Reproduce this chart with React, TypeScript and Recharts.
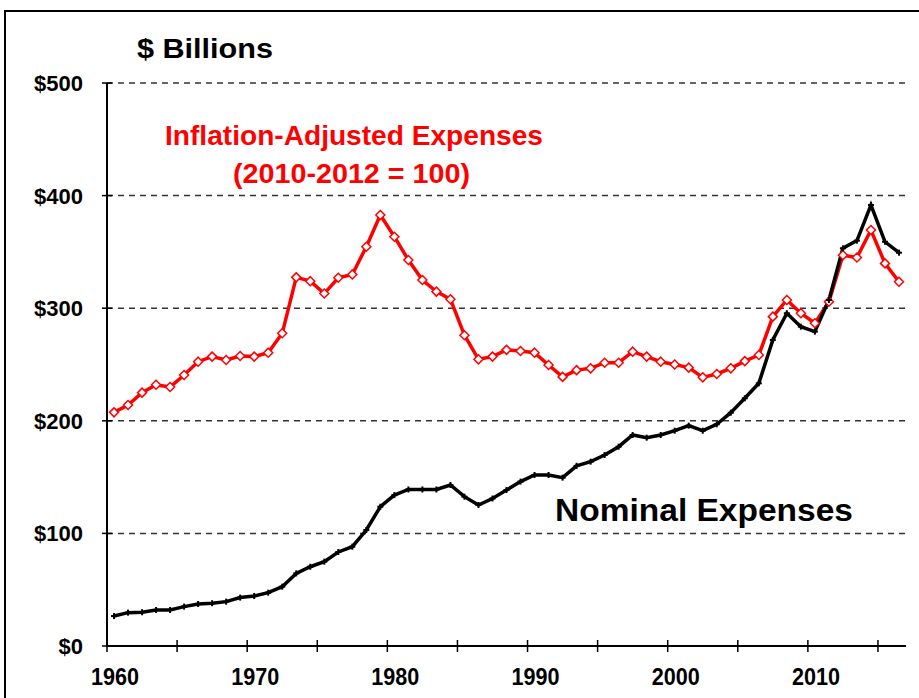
import { LineChart, Line, XAxis, YAxis, CartesianGrid } from 'recharts';

const years = [
  1960, 1961, 1962, 1963, 1964, 1965, 1966, 1967, 1968, 1969,
  1970, 1971, 1972, 1973, 1974, 1975, 1976, 1977, 1978, 1979,
  1980, 1981, 1982, 1983, 1984, 1985, 1986, 1987, 1988, 1989,
  1990, 1991, 1992, 1993, 1994, 1995, 1996, 1997, 1998, 1999,
  2000, 2001, 2002, 2003, 2004, 2005, 2006, 2007, 2008, 2009,
  2010, 2011, 2012, 2013, 2014, 2015, 2016,
];

// nominal expenses, $ billions
const nominal = [
  26.6, 29.6, 30, 32, 32, 35, 37.3, 38, 39.4, 43,
  44.4, 47.4, 52.7, 64.5, 70.4, 74.9, 83.5, 88.2, 103, 123.7,
  134, 139, 139, 139, 143, 132.6, 125.2, 131, 138.5, 146,
  151.9, 151.9, 149.5, 160, 163.7, 169.6, 177, 187.4, 185, 187.4,
  191.2, 195.7, 191.2, 196.9, 207.2, 220, 233.3, 271.8, 295.5, 283.6,
  279.2, 307.3, 353.2, 360, 391.6, 359, 349.3,
];

// inflation-adjusted (2010-2012 = 100)
const adjusted = [
  207.5, 214, 225, 232, 230, 240.7, 252.5, 257, 254, 257.5,
  257, 260.5, 277.7, 327.4, 324, 313, 327, 330, 354.6, 382.8,
  363.5, 342.8, 325, 314.7, 308, 276, 254.6, 257, 263, 262,
  260.5, 249.6, 239, 245, 246.6, 251.6, 251.6, 261.4, 257, 252.5,
  250, 247.2, 238.6, 241.6, 246.6, 253, 258.4, 292.5, 307.3, 295.5,
  286.6, 305.8, 347, 345, 369.4, 339.8, 323.5,
];

const xTicks = [1960, 1965, 1970, 1975, 1980, 1985, 1990, 1995, 2000, 2005, 2010, 2015];
const yTicks = [0, 100, 200, 300, 400, 500];

// points sit in the middle of each year's slot
const data = years.map((y, i) => ({ x: y + 0.5, nominal: nominal[i], adjusted: adjusted[i] }));

const narrow = '"Liberation Sans Narrow", "Arial Narrow", "Liberation Sans", Arial, sans-serif';
const sans = '"Liberation Sans", Arial, sans-serif';

function Diamond(props: any) {
  const { cx, cy, index } = props;
  if (cx == null || cy == null) return <g key={`a${index}`} />;
  return (
    <path
      key={`a${index}`}
      d={`M${cx},${cy - 4.5} L${cx + 4.5},${cy} L${cx},${cy + 4.5} L${cx - 4.5},${cy} Z`}
      fill="#fff"
      stroke="#ff0000"
      strokeWidth={1.5}
    />
  );
}

function Cross(props: any) {
  const { cx, cy, index } = props;
  if (cx == null || cy == null) return <g key={`n${index}`} />;
  return (
    <g key={`n${index}`} stroke="#000" strokeWidth={2}>
      <line x1={cx - 3} x2={cx + 3} y1={cy} y2={cy} />
      <line x1={cx} x2={cx} y1={cy - 3} y2={cy + 3} />
    </g>
  );
}

function XTick({ x, y, payload }: any) {
  const v = payload.value;
  return (
    <g>
      <line x1={x} x2={x} y1={y - 6} y2={y + 6} stroke="#000" strokeWidth={1.5} />
      {v % 10 === 0 && v < 2015 ? (
        <text x={x + 8} y={y + 39} textAnchor="middle" fontFamily={narrow} fontWeight="bold" fontSize={24} textLength={48} lengthAdjust="spacingAndGlyphs" fill="#000">
          {v}
        </text>
      ) : null}
    </g>
  );
}

function YTick({ x, y, payload }: any) {
  return (
    <g>
      <line x1={x - 5} x2={x + 5} y1={y} y2={y} stroke="#000" strokeWidth={1.5} />
      <text x={x - 24} y={y + 8} textAnchor="end" fontFamily={narrow} fontWeight="bold" fontSize={22} fill="#000">
        {`$${payload.value}`}
      </text>
    </g>
  );
}

export default function App() {
  return (
    <div style={{ position: 'fixed', left: 0, top: 0, width: 919, height: 698, overflow: 'hidden', background: '#fff' }}>
      <div style={{ position: 'absolute', left: 4, top: 10, width: 930, height: 700, border: '2px solid #000' }} />
      <div style={{ position: 'absolute', left: 0, top: 0 }}>
        <LineChart width={919} height={698} data={data} margin={{ top: 83, right: 13, bottom: 22, left: 47 }}>
          <CartesianGrid vertical={false} stroke="#333" strokeDasharray="6 5" strokeWidth={1.5} />
          <XAxis
            dataKey="x"
            type="number"
            domain={[1960, 2017]}
            ticks={xTicks}
            interval={0}
            height={30}
            tickSize={0}
            tickMargin={0}
            tickLine={false}
            axisLine={{ stroke: '#000', strokeWidth: 2 }}
            tick={<XTick />}
          />
          <YAxis
            type="number"
            domain={[0, 500]}
            ticks={yTicks}
            interval={0}
            width={60}
            tickSize={0}
            tickMargin={0}
            tickLine={false}
            axisLine={{ stroke: '#000', strokeWidth: 2 }}
            tick={<YTick />}
          />
          <Line
            dataKey="adjusted"
            stroke="#ff0000"
            strokeWidth={3.5}
            dot={Diamond}
            activeDot={false}
            isAnimationActive={false}
          />
          <Line
            dataKey="nominal"
            stroke="#000"
            strokeWidth={3.5}
            dot={Cross}
            activeDot={false}
            isAnimationActive={false}
          />
        </LineChart>
      </div>
      <svg width={919} height={698} style={{ position: 'absolute', left: 0, top: 0, pointerEvents: 'none' }}>
        <text x={137} y={58} fontFamily={sans} fontWeight="bold" fontSize={28} textLength={136} lengthAdjust="spacingAndGlyphs" fill="#000">
          $ Billions
        </text>
        <text x={165} y={145} fontFamily={sans} fontWeight="bold" fontSize={28} textLength={378} lengthAdjust="spacingAndGlyphs" fill="#ff0000">
          Inflation-Adjusted Expenses
        </text>
        <text x={233} y={183} fontFamily={sans} fontWeight="bold" fontSize={28} textLength={237} lengthAdjust="spacingAndGlyphs" fill="#ff0000">
          (2010-2012 = 100)
        </text>
        <text x={555} y={521} fontFamily={sans} fontWeight="bold" fontSize={32} textLength={298} lengthAdjust="spacingAndGlyphs" fill="#000">
          Nominal Expenses
        </text>
      </svg>
    </div>
  );
}
